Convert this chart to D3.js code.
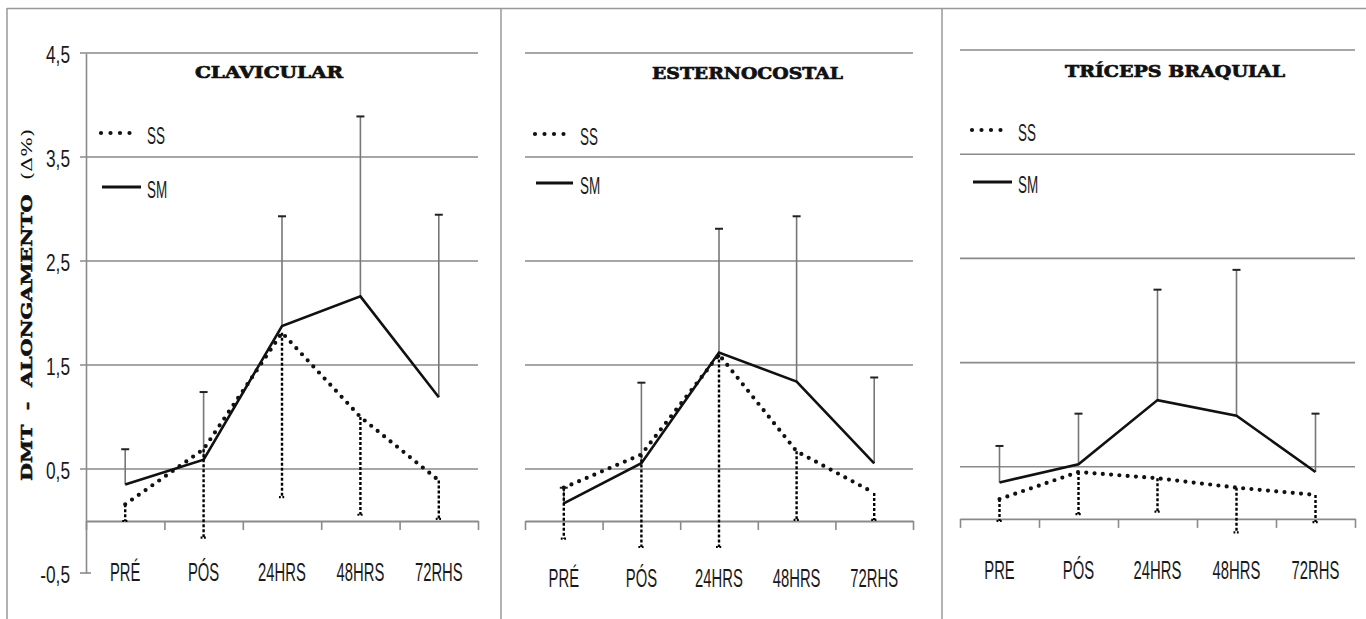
<!DOCTYPE html>
<html><head><meta charset="utf-8">
<script src="https://cdn.jsdelivr.net/npm/d3@7"></script>
<style>body{margin:0;background:#fff}svg{display:block}</style>
</head><body><svg id="c" width="1366" height="619"></svg>
<script>
// ---- data ----
const categories = ["PRÉ", "PÓS", "24HRS", "48HRS", "72RHS"];
const categoriesTriceps = ["PRE", "PÓS", "24HRS", "48HRS", "72RHS"];
const titles = ["CLAVICULAR", "ESTERNOCOSTAL", "TRÍCEPS BRAQUIAL"];
const seriesNames = ["SS", "SM"];
const yTicks = [-0.5, 0.5, 1.5, 2.5, 3.5, 4.5];
const yTickLabels = ["-0,5", "0,5", "1,5", "2,5", "3,5", "4,5"];
const yTitle = ["DMT  -  ALONGAMENTO  ", "(Δ%)"];

// CLAVICULAR
const clavSM   = [0.35, 0.59, 1.875, 2.16, 1.19];
const clavSMsd = [0.34, 0.65, 1.055, 1.73, 1.755];
const clavSS   = [0.16, 0.69, 1.81, 1.00, 0.39];
const clavSSsd = [0.16, 0.85, 1.58, 0.94, 0.37];
// ESTERNOCOSTAL
const esterSM   = [0.17, 0.555, 1.62, 1.34, 0.555];
const esterSMsd = [0.15, 0.775, 1.19, 1.59, 0.825];
const esterSS   = [0.32, 0.64, 1.60, 0.67, 0.27];
const esterSSsd = [0.49, 0.89, 1.85, 0.66, 0.26];
// TRÍCEPS BRAQUIAL
const triSM   = [0.35, 0.525, 1.14, 0.99, 0.45];
const triSMsd = [0.35, 0.485, 1.06, 1.40, 0.56];
const triSS   = [0.19, 0.45, 0.39, 0.30, 0.23];
const triSSsd = [0.21, 0.405, 0.32, 0.43, 0.26];

// ---- layout ----
const svg = d3.select("#c");
const GRAY = "#8a8a8a";
const LABEL_FONT = "'Liberation Sans', Arial, sans-serif";

const panels = [
  {title: titles[0], cats: categories, sm: clavSM, smSD: clavSMsd, ss: clavSS, ssSD: clavSSsd,
   x0: 86, x1: 478, yTop: 53, yBot: 573, gridX0: 80, labelY: 572, yAxis: true,
   titleX: 269, titleY: 78, titleW: 148,
   legX0: 101, legX1: 141, legSSY: 133, legSMY: 187, legTextX: 147},
  {title: titles[1], cats: categories, sm: esterSM, smSD: esterSMsd, ss: esterSS, ssSD: esterSSsd,
   x0: 525, x1: 913, yTop: 53, yBot: 573, gridX0: 525, labelY: 578, yAxis: false,
   titleX: 747.5, titleY: 79, titleW: 191,
   legX0: 535, legX1: 573, legSSY: 134, legSMY: 183, legTextX: 580},
  {title: titles[2], cats: categoriesTriceps, sm: triSM, smSD: triSMsd, ss: triSS, ssSD: triSSsd,
   x0: 960, x1: 1355, yTop: 50, yBot: 571, gridX0: 960, labelY: 570, yAxis: false,
   titleX: 1175, titleY: 77, titleW: 220,
   legX0: 972, legX1: 1012, legSSY: 130, legSMY: 182, legTextX: 1018}
];

function scaledText(g, x, y, txt, size, sx, anchor) {
  return g.append("text")
    .attr("transform", `translate(${x},${y}) scale(${sx},1)`)
    .attr("text-anchor", anchor)
    .attr("dominant-baseline", "central")
    .style("font-family", LABEL_FONT)
    .style("font-size", size + "px")
    .attr("fill", "#1a1a1a")
    .text(txt);
}

// frame
svg.append("line").attr("x1", 7).attr("x2", 1366).attr("y1", 8.5).attr("y2", 8.5)
  .attr("stroke", "#999").attr("stroke-width", 1.5);
[7, 501, 942].forEach(x => {
  svg.append("line").attr("x1", x).attr("x2", x).attr("y1", 8).attr("y2", 619)
    .attr("stroke", "#999").attr("stroke-width", 1.5);
});

panels.forEach(p => {
  const g = svg.append("g");
  const y = d3.scaleLinear().domain([yTicks[0], yTicks[yTicks.length - 1]]).range([p.yBot, p.yTop]);
  const xb = d3.scaleBand().domain(p.cats).range([p.x0, p.x1]).paddingInner(0).paddingOuter(0);
  const xc = c => xb(c) + xb.bandwidth() / 2;
  const xEdge = d3.scaleLinear().domain([0, p.cats.length]).range([p.x0, p.x1]);

  // gridlines
  g.selectAll(".grid").data(yTicks.filter(t => t > 0)).join("line")
    .attr("x1", p.gridX0).attr("x2", p.x1)
    .attr("y1", d => y(d)).attr("y2", d => y(d))
    .attr("stroke", GRAY).attr("stroke-width", 1.6);

  // value axis (first panel only)
  if (p.yAxis) {
    const ax = d3.axisLeft(y).tickValues(yTicks).tickSize(0).tickFormat("");
    const ag = g.append("g").attr("transform", `translate(${p.x0},0)`).call(ax);
    ag.select(".domain").attr("stroke", GRAY).attr("stroke-width", 1.6);
    g.append("line").attr("x1", p.gridX0).attr("x2", p.x0 + 5)
      .attr("y1", y(yTicks[0])).attr("y2", y(yTicks[0]))
      .attr("stroke", GRAY).attr("stroke-width", 1.6);
    yTicks.forEach((t, i) => {
      scaledText(g, 70, y(t) + 1, yTickLabels[i], 24, 0.72, "end");
    });
    // axis title
    const tt = g.append("text")
      .attr("transform", `translate(27,305) rotate(-90)`)
      .attr("text-anchor", "middle")
      .attr("dominant-baseline", "central")
      .attr("textLength", 352).attr("lengthAdjust", "spacingAndGlyphs")
      .style("white-space", "pre")
      .attr("fill", "#111");
    tt.append("tspan").text(yTitle[0])
      .style("font-family", "'DejaVu Serif', serif").style("font-weight", "900").style("font-size", "15px")
      .attr("stroke", "#111").attr("stroke-width", 0.5);
    tt.append("tspan").text(yTitle[1])
      .style("font-family", "'DejaVu Serif', serif").style("font-weight", "normal").style("font-size", "15px");
  }

  // category axis at zero
  const cax = d3.axisBottom(xEdge).tickValues(d3.range(p.cats.length + 1)).tickSize(9).tickSizeOuter(0).tickFormat("");
  const cg = g.append("g").attr("transform", `translate(0,${y(0)})`).call(cax);
  cg.select(".domain").attr("stroke", GRAY).attr("stroke-width", 1.8);
  cg.selectAll(".tick line").attr("stroke", GRAY).attr("stroke-width", 1.6);

  // category labels
  p.cats.forEach(c => scaledText(g, xc(c), p.labelY, c, 26, 0.57, "middle"));

  // title
  g.append("text").attr("x", p.titleX).attr("y", p.titleY)
    .attr("text-anchor", "middle")
    .attr("textLength", p.titleW).attr("lengthAdjust", "spacingAndGlyphs")
    .style("font-family", "'DejaVu Serif', serif").style("font-weight", "900").style("font-size", "16px")
    .attr("stroke", "#111").attr("stroke-width", 0.7)
    .attr("fill", "#111").text(p.title);

  // SM error bars (upward)
  p.cats.forEach((c, i) => {
    const top = p.sm[i] + p.smSD[i];
    g.append("line").attr("x1", xc(c)).attr("x2", xc(c))
      .attr("y1", y(p.sm[i])).attr("y2", y(top))
      .attr("stroke", "#777").attr("stroke-width", 1.6);
    g.append("line").attr("x1", xc(c) - 4).attr("x2", xc(c) + 4)
      .attr("y1", y(top)).attr("y2", y(top))
      .attr("stroke", "#222").attr("stroke-width", 2);
  });

  // SM line
  const line = d3.line().x((d, i) => xc(p.cats[i])).y(d => y(d));
  g.append("path").datum(p.sm).attr("d", line)
    .attr("fill", "none").attr("stroke", "#111").attr("stroke-width", 2.6).attr("stroke-linejoin", "miter");

  // SS error bars (downward, dotted)
  p.cats.forEach((c, i) => {
    const bot = p.ss[i] - p.ssSD[i];
    g.append("line").attr("x1", xc(c)).attr("x2", xc(c))
      .attr("y1", y(p.ss[i])).attr("y2", y(bot))
      .attr("stroke", "#000").attr("stroke-width", 2.4).attr("stroke-dasharray", "3 2");
    g.append("line").attr("x1", xc(c) - 3).attr("x2", xc(c) + 3)
      .attr("y1", y(bot)).attr("y2", y(bot))
      .attr("stroke", "#000").attr("stroke-width", 2.2).attr("stroke-dasharray", "1.8 1.6");
  });

  // SS dotted line
  g.append("path").datum(p.ss).attr("d", line)
    .attr("fill", "none").attr("stroke", "#111").attr("stroke-width", 4.2)
    .attr("stroke-linecap", "round").attr("stroke-dasharray", "0 8.3");

  // legend
  g.append("line").attr("x1", p.legX0).attr("x2", p.legX0 + 38)
    .attr("y1", p.legSSY).attr("y2", p.legSSY)
    .attr("stroke", "#111").attr("stroke-width", 4.2)
    .attr("stroke-linecap", "round").attr("stroke-dasharray", "0 9.5");
  g.append("line").attr("x1", p.legX0 + 1).attr("x2", p.legX1)
    .attr("y1", p.legSMY).attr("y2", p.legSMY)
    .attr("stroke", "#111").attr("stroke-width", 2.8);
  scaledText(g, p.legTextX, p.legSSY + 2, seriesNames[0], 24, 0.56, "start");
  scaledText(g, p.legTextX, p.legSMY + 2, seriesNames[1], 24, 0.56, "start");
});
</script>
</body></html>
